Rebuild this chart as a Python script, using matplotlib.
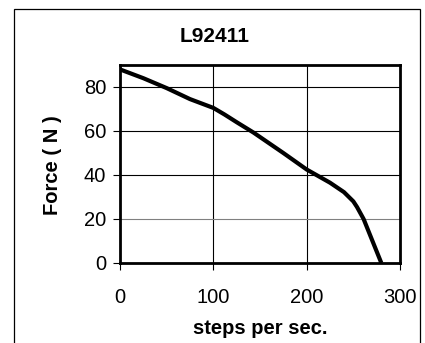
import matplotlib
matplotlib.use("Agg")
import matplotlib.pyplot as plt
from matplotlib.patches import Rectangle

# data
speed = [0, 25, 50, 75, 100, 112, 125, 143, 175, 200, 225, 240, 250, 254, 261, 280]
force = [88, 84, 79.5, 74.5, 70.5, 67.5, 64, 59.3, 50, 42.5, 36.5, 32.2, 28, 25.4, 20, 0]
x_ticks = [0, 100, 200, 300]
y_ticks = [0, 20, 40, 60, 80]

plt.rcParams['font.family'] = ['Liberation Sans', 'DejaVu Sans']

fig = plt.figure(figsize=(4.25, 3.43), dpi=100)
ax = fig.add_axes([120/425, 1 - 263/343, 280/425, 198/343])

# grid lines
for x in x_ticks[1:-1]:
    ax.axvline(x, color='black', lw=0.8, zorder=1)
for y in y_ticks[1:]:
    ax.axhline(y, color='#808080' if y == 20 else 'black', lw=0.8, zorder=1)

ax.plot(speed, force, color='black', lw=3, solid_capstyle='butt', zorder=3)

ax.set_xlim(0, 300)
ax.set_ylim(0, 90)
ax.set_xticks(x_ticks)
ax.set_yticks(y_ticks)
ax.tick_params(direction='out', length=5, width=0.8, labelsize=14.5)
ax.tick_params(axis='x', pad=13)
ax.tick_params(axis='y', pad=5)
for s in ax.spines.values():
    s.set_linewidth(2)
    s.set_zorder(4)

fig.text(215/425, 1 - 36/343, 'L92411', ha='center', va='center',
         fontsize=15, fontweight='bold')
fig.text(260/425, 1 - 328/343, 'steps per sec.', ha='center', va='center',
         fontsize=14.5, fontweight='bold')
fig.text(53/425, 1 - 165/343, 'Force ( N )', ha='center', va='center',
         rotation=90, fontsize=14.5, fontweight='bold')

# outer chart border (bottom runs off the image)
fig.patches.append(Rectangle((14/425, -0.1), 405.5/425, (334/343) + 0.1,
                             transform=fig.transFigure, fill=False,
                             edgecolor='black', lw=0.9))

fig.savefig('out.png', dpi=100)
